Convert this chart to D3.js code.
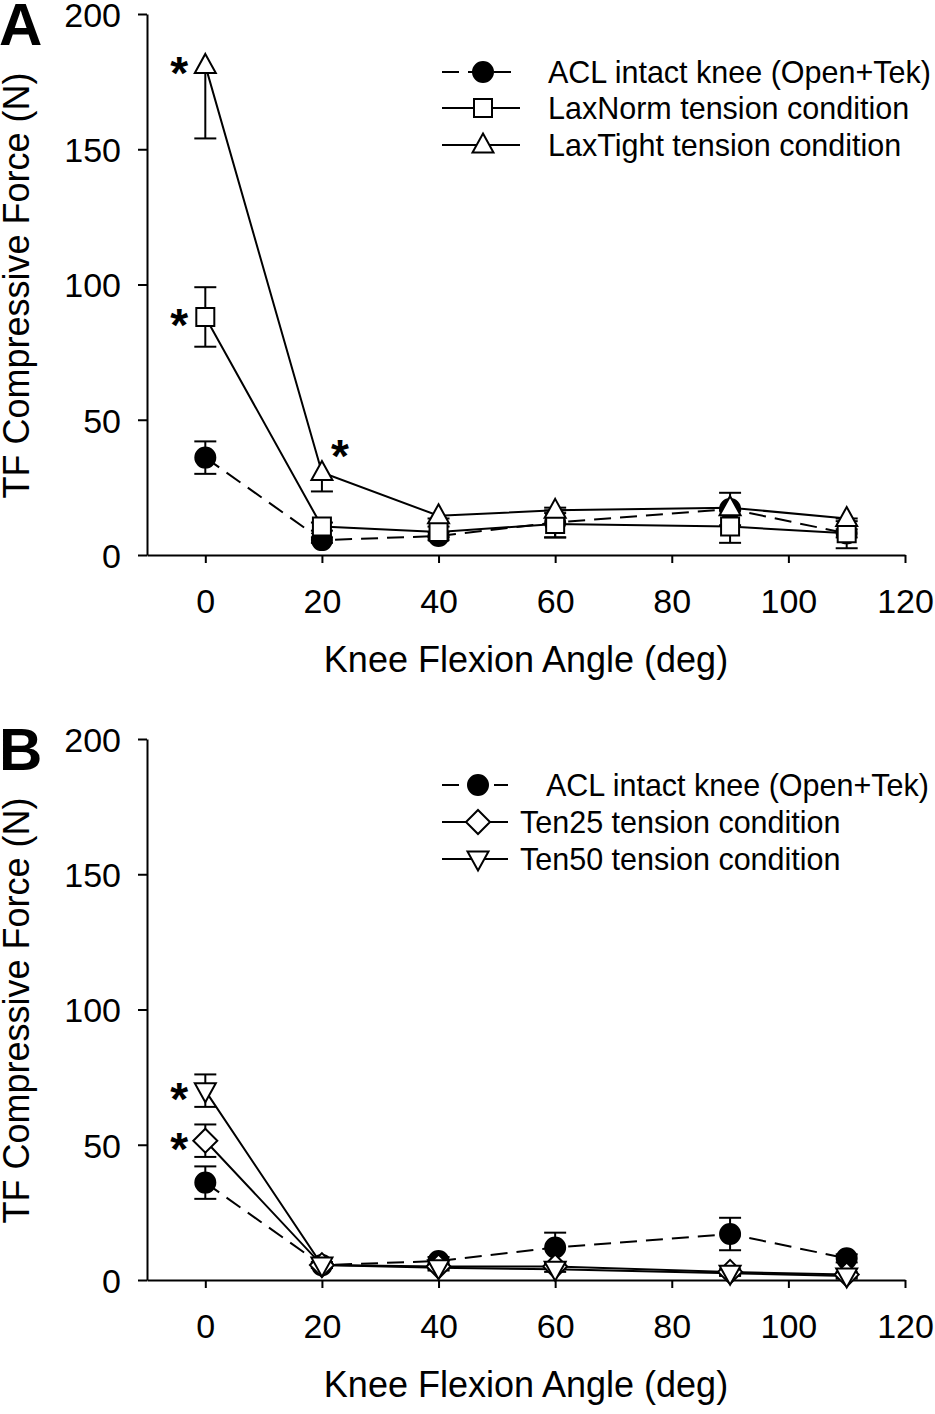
<!DOCTYPE html>
<html><head><meta charset="utf-8">
<script src="https://cdn.jsdelivr.net/npm/d3@7"></script>
<style>body{margin:0;background:#fff}svg{display:block}text{font-family:"Liberation Sans",Arial,sans-serif;fill:#000}</style>
</head><body>
<script>
// ---- data ----
const angles = [0, 20, 40, 60, 90, 110];
const xTicks = [0, 20, 40, 60, 80, 100, 120];
const yTicks = [0, 50, 100, 150, 200];

const aclMean = [36, 5.5, 7, 12, 17, 8];
const aclErr  = [6, 1, 1.5, 5.5, 6, 1.5];

const laxNormMean = [88, 10.5, 8.5, 11.5, 10.5, 8];
const laxNormErr  = [11, 1.5, 2, 5, 6, 5.5];

const laxTightMean = [181, 30.5, 14.5, 16.5, 17.5, 13.5];
const laxTightErrLow = [27, 7, 1, 1, 1, 1];

const ten25Mean = [51.5, 5.5, 5, 5, 3, 2];
const ten25Err  = [6, 1, 1, 1, 1, 1];

const ten50Mean = [70, 5.5, 4.5, 4, 2.5, 1.5];
const ten50Err  = [6, 1, 1, 1, 1, 1];

const labelsA = ["ACL intact knee (Open+Tek)", "LaxNorm tension condition", "LaxTight tension condition"];
const labelsB = ["ACL intact knee (Open+Tek)", "Ten25 tension condition", "Ten50 tension condition"];

const xTitle = "Knee Flexion Angle (deg)";
const yTitle = "TF Compressive Force (N)";

// ---- drawing ----
const W = 935, H = 1414;
const svg = d3.select("body").append("svg").attr("width", W).attr("height", H);

function markerPath(kind, s) {
  if (kind === "circle") return d3.symbol().type(d3.symbolCircle).size(Math.PI*s*s)();
  if (kind === "square") return d3.symbol().type(d3.symbolSquare).size(4*s*s)();
  const p = d3.path();
  if (kind === "triUp") { p.moveTo(0,-s*1.15); p.lineTo(s*1.05,s*0.75); p.lineTo(-s*1.05,s*0.75); p.closePath(); }
  if (kind === "triDown") { p.moveTo(0,s*1.15); p.lineTo(s*1.05,-s*0.75); p.lineTo(-s*1.05,-s*0.75); p.closePath(); }
  if (kind === "diamond") { p.moveTo(0,-s*1.2); p.lineTo(s*1.2,0); p.lineTo(0,s*1.2); p.lineTo(-s*1.2,0); p.closePath(); }
  return p.toString();
}

function panel(cfg) {
  const x = d3.scaleLinear().domain([-10, 120]).range([147, 905]);
  const y = d3.scaleLinear().domain([0, 200]).range([cfg.y0, cfg.y0 - 541]);
  const g = svg.append("g");
  const clipId = "clip" + cfg.letter;
  svg.append("clipPath").attr("id", clipId).append("rect")
    .attr("x", 140).attr("y", y(200)).attr("width", 790).attr("height", 560);

  // axes
  const ax = g.append("g").attr("transform", `translate(0,${y(0)})`)
    .call(d3.axisBottom(x).tickValues(xTicks).tickSize(8).tickPadding(8).tickSizeOuter(0));
  const ay = g.append("g").attr("transform", `translate(${x(-10)},0)`)
    .call(d3.axisLeft(y).tickValues(yTicks).tickSize(9).tickPadding(17).tickSizeOuter(0));
  [ax, ay].forEach(a => {
    a.select(".domain").attr("stroke", "#000").attr("stroke-width", 2);
    a.selectAll(".tick line").attr("stroke", "#000").attr("stroke-width", 2);
    a.selectAll(".tick text").style("font-size", "34px").style("font-family", "Liberation Sans, Arial, sans-serif").attr("fill", "#000");
  });
  ax.selectAll(".tick text").attr("y", 58).attr("dy", "0");
  ay.selectAll(".tick text").attr("dy", "0.36em");

  g.append("text").attr("x", 526).attr("y", y(0) + 117).attr("text-anchor", "middle")
    .style("font-size", "36px").text(xTitle);
  g.append("text").attr("transform", `translate(29,${y(100) + 1}) rotate(-90)`).attr("text-anchor", "middle")
    .style("font-size", "36px").text(yTitle);
  g.append("text").attr("x", -1).attr("y", y(200) + 31).style("font-size", "60px").style("font-weight", "bold").text(cfg.letter);

  const plot = g.append("g").attr("clip-path", `url(#${clipId})`);
  const line = d3.line().x((d,i) => x(angles[i])).y(d => y(d));

  // error bars first
  cfg.series.forEach(s => {
    s.mean.forEach((m, i) => {
      const lo = m - s.errLo[i], hi = m + s.errHi[i];
      const gx = x(angles[i]);
      plot.append("line").attr("x1", gx).attr("x2", gx).attr("y1", y(lo)).attr("y2", y(hi)).attr("stroke", "#000").attr("stroke-width", 2);
      if (s.errLo[i] > 0) plot.append("line").attr("x1", gx-11).attr("x2", gx+11).attr("y1", y(lo)).attr("y2", y(lo)).attr("stroke", "#000").attr("stroke-width", 2);
      if (s.errHi[i] > 0) plot.append("line").attr("x1", gx-11).attr("x2", gx+11).attr("y1", y(hi)).attr("y2", y(hi)).attr("stroke", "#000").attr("stroke-width", 2);
    });
  });
  cfg.series.forEach(s => {
    plot.append("path").attr("d", line(s.mean)).attr("fill", "none").attr("stroke", "#000")
      .attr("stroke-width", 2).attr("stroke-dasharray", s.dashed ? "17,9" : null);
  });
  cfg.series.forEach(s => {
    plot.selectAll(null).data(s.mean).enter().append("path")
      .attr("d", markerPath(s.kind, s.size))
      .attr("transform", (d,i) => `translate(${x(angles[i])},${y(d)})`)
      .attr("fill", s.fill).attr("stroke", "#000").attr("stroke-width", 2);
  });
  // asterisks
  cfg.stars.forEach(st => {
    g.append("text").attr("x", x(st.a) + st.dx).attr("y", y(st.v) + st.dy).attr("text-anchor", "middle")
      .style("font-size", "46px").style("font-weight", "bold").text("*");
  });
  // legend
  cfg.series.forEach((s, i) => {
    const ly = cfg.legY[i];
    const lg = g.append("g");
    lg.append("line").attr("x1", 442).attr("x2", cfg.legLineEnd).attr("y1", ly).attr("y2", ly)
      .attr("stroke", "#000").attr("stroke-width", 2).attr("stroke-dasharray", s.dashed ? "17,9" : null);
    lg.append("path").attr("d", markerPath(s.kind, s.size)).attr("transform", `translate(${cfg.legMarkX},${ly})`)
      .attr("fill", s.fill).attr("stroke", "#000").attr("stroke-width", 2);
    lg.append("text").attr("x", cfg.legTextX[i]).attr("y", ly).attr("dy", "0.36em")
      .style("font-size", "30.5px").text(cfg.labels[i]);
  });
}

panel({
  letter: "A", y0: 555,
  labels: labelsA,
  legY: [72, 108, 145], legLineEnd: 520, legMarkX: 483, legTextX: [548, 548, 548],
  series: [
    {mean: aclMean, errLo: aclErr, errHi: aclErr, kind: "circle", size: 10, fill: "#000", dashed: true},
    {mean: laxNormMean, errLo: laxNormErr, errHi: laxNormErr, kind: "square", size: 9, fill: "#fff", dashed: false},
    {mean: laxTightMean, errLo: laxTightErrLow, errHi: laxTightMean.map(() => 0), kind: "triUp", size: 10, fill: "#fff", dashed: false}
  ],
  stars: [{a: 0, v: 181, dx: -26, dy: 24}, {a: 0, v: 88, dx: -26, dy: 24}, {a: 20, v: 30.5, dx: 18, dy: 0}]
});

panel({
  letter: "B", y0: 1280,
  labels: labelsB,
  legY: [785, 822, 859], legLineEnd: 508, legMarkX: 478, legTextX: [546, 520, 520],
  series: [
    {mean: aclMean, errLo: aclErr, errHi: aclErr, kind: "circle", size: 10, fill: "#000", dashed: true},
    {mean: ten25Mean, errLo: ten25Err, errHi: ten25Err, kind: "diamond", size: 10, fill: "#fff", dashed: false},
    {mean: ten50Mean, errLo: ten50Err, errHi: ten50Err, kind: "triDown", size: 10, fill: "#fff", dashed: false}
  ],
  stars: [{a: 0, v: 70, dx: -26, dy: 24}, {a: 0, v: 51.5, dx: -26, dy: 24}]
});
</script>
</body></html>
